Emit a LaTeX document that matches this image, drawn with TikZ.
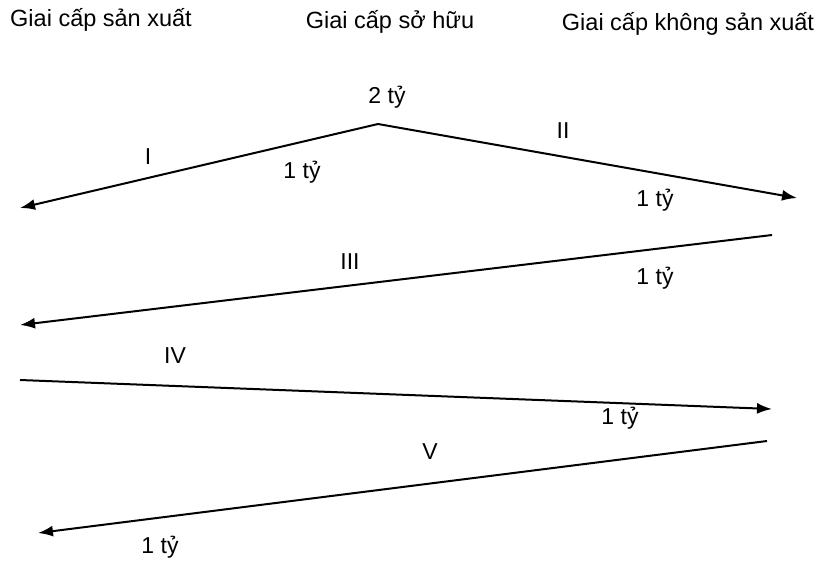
\documentclass[tikz,border=0pt]{standalone}
\usepackage{fontspec}
\setmainfont{Liberation Sans}
\usetikzlibrary{arrows.meta}
\begin{document}
\begin{tikzpicture}[x=1pt,y=-1pt,
  flow/.style={line width=2pt,-{Latex[length=15pt,width=11pt]}},
  lbl/.style={inner sep=0pt,font=\fontsize{23}{26}\selectfont},
  head/.style={inner sep=0pt,font=\fontsize{23.5}{26}\selectfont}]
\useasboundingbox (0,0) rectangle (830,563);
% headings
\node[head] (hprod) at (101,20) {Giai cấp sản xuất};
\node[head] (hown) at (390,22) {Giai cấp sở hữu};
\node[head] (hnon) at (688,24) {Giai cấp không sản xuất};
% end points
\coordinate (apex) at (378,124);
\coordinate (e1) at (20,208);
\coordinate (e2) at (797,198);
\coordinate (s3) at (772,235);
\coordinate (e3) at (20,325);
\coordinate (s4) at (20,380);
\coordinate (e4) at (772,409);
\coordinate (s5) at (767,441);
\coordinate (e5) at (38,533);
% connectors
\draw[flow] (apex) -- (e1);
\draw[flow] (apex) -- (e2);
\draw[flow] (s3) -- (e3);
\draw[flow] (s4) -- (e4);
\draw[flow] (s5) -- (e5);
% labels
\node[lbl] (l2ty) at (387,97) {2 tỷ};
\node[lbl] (lI) at (148,157) {I};
\node[lbl] (lIa) at (302,172) {1 tỷ};
\node[lbl] (lII) at (563,131) {II};
\node[lbl] (lIIa) at (655,200) {1 tỷ};
\node[lbl] (lIII) at (350,262) {III};
\node[lbl] (lIIIa) at (655,278) {1 tỷ};
\node[lbl] (lIV) at (175,356) {IV};
\node[lbl] (lIVa) at (620,418) {1 tỷ};
\node[lbl] (lV) at (430,452) {V};
\node[lbl] (lVa) at (160,547) {1 tỷ};
\end{tikzpicture}
\end{document}
